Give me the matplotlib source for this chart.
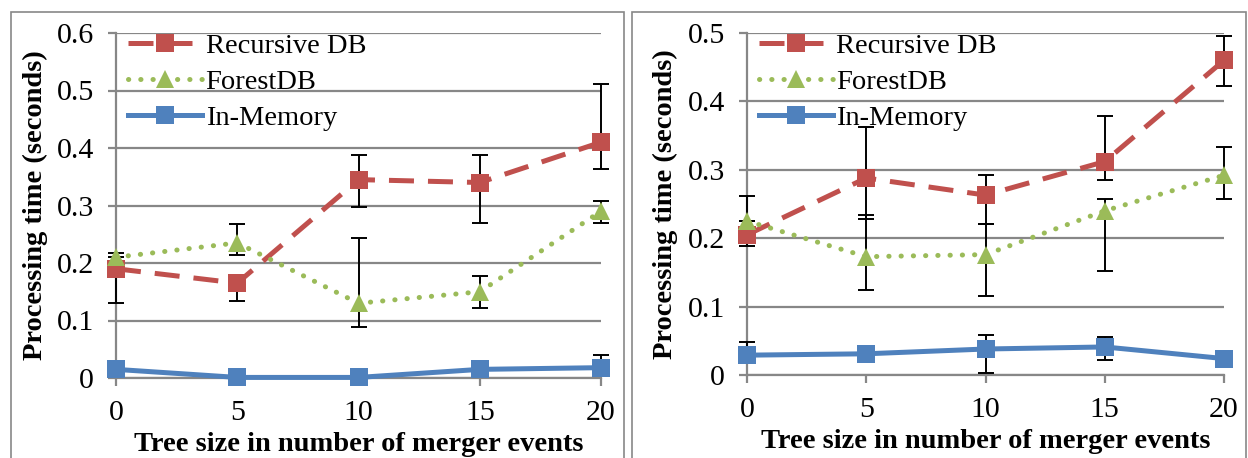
"""Processing time vs tree size, two panels."""
import matplotlib
matplotlib.use("Agg")
import matplotlib.pyplot as plt
from matplotlib.patches import Rectangle
from numpy import array

sizes = [0, 5, 10, 15, 20]
series_names = ["Recursive DB", "ForestDB", "In-Memory"]

# left panel
left_recursive = [0.19, 0.165, 0.345, 0.34, 0.41]
left_recursive_lo = [0.13, 0.134, 0.298, 0.269, 0.363]
left_recursive_hi = [0.19, 0.165, 0.388, 0.387, 0.512]
left_forest = [0.21, 0.235, 0.13, 0.15, 0.29]
left_forest_lo = [0.21, 0.214, 0.088, 0.122, 0.269]
left_forest_hi = [0.218, 0.268, 0.243, 0.177, 0.308]
left_memory = [0.015, 0.001, 0.001, 0.015, 0.018]
left_memory_lo = [0.015, 0.001, 0.001, 0.015, 0.018]
left_memory_hi = [0.015, 0.001, 0.001, 0.015, 0.04]

# right panel
right_recursive = [0.205, 0.288, 0.263, 0.312, 0.46]
right_recursive_lo = [0.189, 0.228, 0.221, 0.285, 0.422]
right_recursive_hi = [0.261, 0.362, 0.293, 0.378, 0.495]
right_forest = [0.225, 0.173, 0.176, 0.24, 0.292]
right_forest_lo = [0.225, 0.125, 0.116, 0.152, 0.257]
right_forest_hi = [0.225, 0.234, 0.221, 0.257, 0.333]
right_memory = [0.029, 0.031, 0.038, 0.041, 0.024]
right_memory_lo = [0.029, 0.031, 0.003, 0.022, 0.024]
right_memory_hi = [0.048, 0.031, 0.058, 0.055, 0.024]

left_yticks = [0, 0.1, 0.2, 0.3, 0.4, 0.5, 0.6]
right_yticks = [0, 0.1, 0.2, 0.3, 0.4, 0.5]

colors = ["#C0504D", "#9BBB59", "#4F81BD"]
styles = [(0, (5, 2.8)), (0, (0.05, 2.4)), "-"]
markers = ["s", "^", "s"]

plt.rcParams["font.family"] = ["Liberation Serif", "DejaVu Serif"]
GRID = "#878787"


def draw_panel(axes, data, yticks, ylab_x):
    """Draw one panel: three series with asymmetric error bars."""
    for (vals, lo, hi), name, col, ls, mk in zip(data, series_names, colors,
                                                 styles, markers):
        vals = array(vals)
        err = [vals - array(lo), array(hi) - vals]
        axes.errorbar(sizes, vals, yerr=err, fmt="none", ecolor="black",
                      elinewidth=1.4, capsize=5.5, capthick=1.4, zorder=3,
                      clip_on=False)
        cap = "round" if mk == "^" else "butt"
        axes.plot(sizes, vals, color=col, linestyle=ls, linewidth=3.6,
                  marker=mk, markersize=13, markeredgewidth=0,
                  dash_capstyle=cap, label=name, zorder=4, clip_on=False)
    axes.set_xlim(0, 20)
    axes.set_ylim(yticks[0], yticks[-1])
    axes.set_xticks(sizes)
    axes.set_yticks(yticks)
    axes.set_yticklabels(["0"] + ["%.1f" % v for v in yticks[1:]])
    axes.yaxis.grid(True, color=GRID, linewidth=1.6, zorder=0)
    for side in ("top", "right"):
        axes.spines[side].set_visible(False)
    for side in ("left", "bottom"):
        axes.spines[side].set_color(GRID)
        axes.spines[side].set_linewidth(1.6)
    axes.tick_params(axis="x", colors=GRID, labelcolor="black", length=6,
                     width=1.6, labelsize=21.5, pad=10)
    axes.tick_params(axis="y", colors=GRID, labelcolor="black", length=6,
                     width=1.6, labelsize=21.5, pad=10)
    axes.set_xlabel("Tree size in number of merger events", fontsize=20.5,
                    fontweight="bold", labelpad=4)
    axes.set_ylabel("Processing time (seconds)", fontsize=20.5,
                    fontweight="bold")
    axes.yaxis.set_label_coords(ylab_x, 0.5)
    axes.legend(loc="upper left", bbox_to_anchor=(0.025, 1.0),
                frameon=False, fontsize=20.5, handlelength=2.6,
                handletextpad=0.12, labelspacing=0.36, borderaxespad=0,
                borderpad=0)


def main():
    """Build the figure."""
    dpi = 100
    fig = plt.figure(dpi=dpi, figsize=(1248 / dpi, 458 / dpi))

    fig.patches.append(Rectangle((11 / 1248, -0.1), 613 / 1248, 1.1 - 12 / 458,
                                 transform=fig.transFigure, fill=False,
                                 edgecolor=GRID, linewidth=1.2))
    fig.patches.append(Rectangle((632 / 1248, -0.1), 614 / 1248,
                                 1.1 - 12 / 458, transform=fig.transFigure,
                                 fill=False, edgecolor=GRID, linewidth=1.2))

    ax1 = fig.add_axes([116 / 1248, 80 / 458, 485 / 1248, 345 / 458])
    draw_panel(ax1, [(left_recursive, left_recursive_lo, left_recursive_hi),
                     (left_forest, left_forest_lo, left_forest_hi),
                     (left_memory, left_memory_lo, left_memory_hi)],
               left_yticks, -(116 - 48) / 485)

    ax2 = fig.add_axes([747 / 1248, 83 / 458, 477 / 1248, 342 / 458])
    draw_panel(ax2, [(right_recursive, right_recursive_lo, right_recursive_hi),
                     (right_forest, right_forest_lo, right_forest_hi),
                     (right_memory, right_memory_lo, right_memory_hi)],
               right_yticks, -(747 - 678) / 477)

    fig.savefig("out.png", dpi=dpi)


if __name__ == "__main__":
    main()
